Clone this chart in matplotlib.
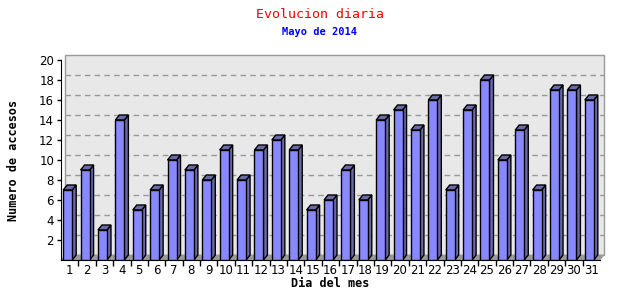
import numpy as np
import matplotlib
matplotlib.use("Agg")
import matplotlib.pyplot as plt
from matplotlib.patches import Polygon, Rectangle

# Data
dias = list(range(1, 32))
accesos = [7, 9, 3, 14, 5, 7, 10, 9, 8, 11, 8, 11, 12, 11, 5,
           6, 9, 6, 14, 15, 13, 16, 7, 15, 18, 10, 13, 7, 17, 17, 16]
y_ticks = [2, 4, 6, 8, 10, 12, 14, 16, 18, 20]

W, H = 640, 300
fig = plt.figure(figsize=(6.4, 3.0), dpi=100)
fig.patch.set_facecolor("white")

# front axis box in pixels: x 61..600, y 60..260
x0, x1, ytop, ybot = 61, 600, 60, 260
ax = fig.add_axes([x0 / W, (H - ybot) / H, (x1 - x0) / W, (ybot - ytop) / H])
ax.set_xlim(0.5, 31.5)
ax.set_ylim(0, 20)
ax.patch.set_visible(False)
for s in ["top", "right"]:
    ax.spines[s].set_visible(False)
ax.spines["left"].set_color("black")
ax.spines["bottom"].set_color("black")

px = 31 / (x1 - x0)   # data units per pixel in x
dx = 4 * px           # depth offset
dy = 5 * 20 / (ybot - ytop)

# back panel
ax.add_patch(Rectangle((0.5 + dx, dy), 31, 20, facecolor="#e8e8e8",
                       edgecolor="#999999", lw=1, zorder=0, clip_on=False))
# floor
ax.add_patch(Polygon([(0.5, 0), (31.5, 0), (31.5 + dx, dy), (0.5 + dx, dy)],
                     closed=True, facecolor="#999999", edgecolor="#999999",
                     lw=0.5, zorder=0.5, clip_on=False))
# dashed grid on back panel
for v in y_ticks[:-1]:
    ax.plot([0.5 + dx, 31.5 + dx], [v + dy, v + dy], color="#999999",
            lw=1, ls=(0, (4, 3)), zorder=0.6, clip_on=False)

# bars
w = 9 * px
lefts = np.array(dias) - (w + dx) / 2
ax.bar(lefts, accesos, width=w, align="edge", color="#8888ff",
       edgecolor="black", lw=1, zorder=3)
for l, v in zip(lefts, accesos):
    side = [(l + w, 0), (l + w + dx, dy), (l + w + dx, v + dy), (l + w, v)]
    top = [(l, v), (l + w, v), (l + w + dx, v + dy), (l + dx, v + dy)]
    ax.add_patch(Polygon(side, closed=True, facecolor="#6a6aa8",
                         edgecolor="black", lw=1, zorder=2.5))
    ax.add_patch(Polygon(top, closed=True, facecolor="#6a6aa8",
                         edgecolor="black", lw=1, zorder=2.5))

# ticks
ax.set_yticks(y_ticks)
ax.set_yticklabels([str(t) for t in y_ticks], fontsize=8.5,
                   family="DejaVu Sans")
ax.tick_params(axis="y", length=3, pad=2, width=1)
ax.set_xticks(dias)
ax.set_xticklabels([str(d) for d in dias], fontsize=8.5, family="DejaVu Sans")
ax.tick_params(axis="x", length=0, pad=3)
ax.set_xticks(np.arange(1.5, 31.5, 1), minor=True)
ax.tick_params(axis="x", which="minor", length=4, width=1)

ax.set_xlabel("Dia del mes", fontsize=8.5, fontweight="bold",
              family="DejaVu Sans Mono", labelpad=0)
ax.set_ylabel("Numero de accesos", fontsize=8.5, fontweight="bold",
              family="DejaVu Sans Mono", labelpad=14)

fig.text(0.5, 1 - 14 / H, "Evolucion diaria", color="red", fontsize=9.5,
         family="DejaVu Sans Mono", ha="center", va="center")
fig.text(0.5, 1 - 32 / H, "Mayo de 2014", color="blue", fontsize=7.5,
         fontweight="bold", family="DejaVu Sans Mono", ha="center",
         va="center")

fig.savefig("out.png", dpi=100, facecolor="white")
